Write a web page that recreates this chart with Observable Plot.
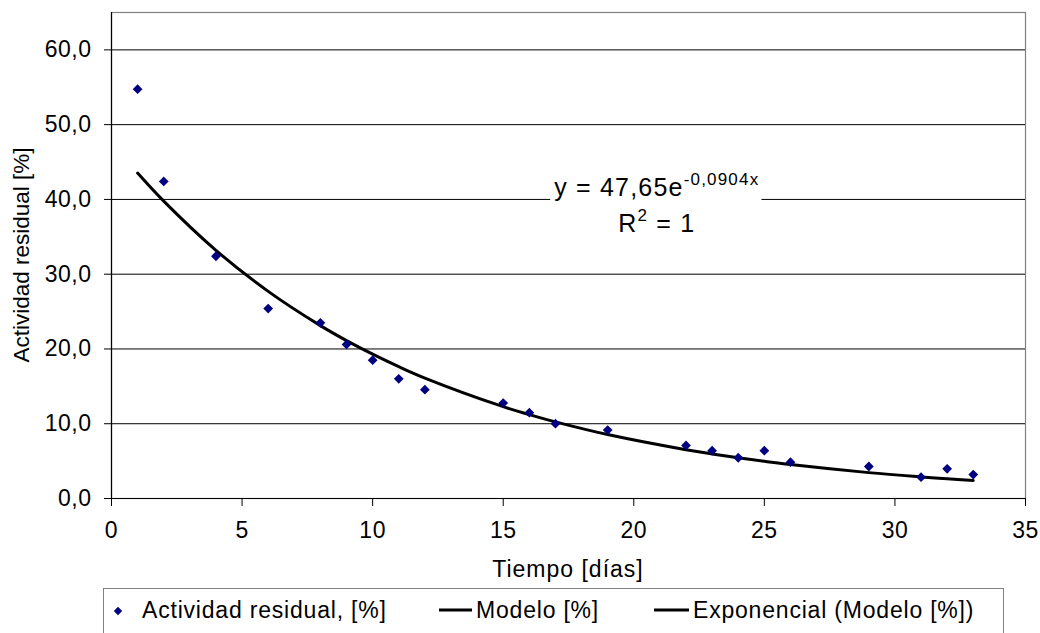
<!DOCTYPE html>
<html>
<head>
<meta charset="utf-8">
<script src="https://cdn.jsdelivr.net/npm/d3@7"></script>
<script src="https://cdn.jsdelivr.net/npm/@observablehq/plot@0.6"></script>
<style>
  body { margin: 0; background: #fff; font-family: "Liberation Sans", Arial, sans-serif; }
  #wrap { position: relative; width: 1040px; height: 633px; overflow: hidden; background: #fff; }
  #legend { position: absolute; left: 103px; top: 588px; width: 901px; height: 80px; box-sizing: border-box; border: 1px solid #808080; background: #fff; }
  #legend svg { display: block; }
</style>
</head>
<body>
<div id="wrap">
  <div id="chart"></div>
  <div id="legend"></div>
</div>
<script>
// ---- data ----
const days = [1, 2, 4, 6, 8, 9, 10, 11, 12, 15, 16, 17, 19, 22, 23, 24, 25, 26, 29, 31, 32, 33];
const actividad = [54.75, 42.4, 32.4, 25.4, 23.5, 20.6, 18.5, 16.0, 14.55, 12.76, 11.47, 10.0, 9.15, 7.1, 6.4, 5.45, 6.4, 4.86, 4.28, 2.85, 3.97, 3.2];
const modelo = [43.53, 39.77, 33.19, 27.70, 23.12, 21.12, 19.30, 17.63, 16.11, 12.28, 11.22, 10.25, 8.55, 6.52, 5.96, 5.44, 4.97, 4.54, 3.46, 2.89, 2.64, 2.41];
const xTicks = [0, 5, 10, 15, 20, 25, 30, 35];
const yTicks = [0, 10, 20, 30, 40, 50, 60];
const xLabel = "Tiempo [días]";
const yLabel = "Actividad residual [%]";
const seriesNames = ["Actividad residual, [%]", "Modelo [%]", "Exponencial (Modelo [%])"];
const equation = { base: "y = 47,65e", exp: "-0,0904x", r2: "R", r2exp: "2", r2rest: " = 1" };
const eqAnchor = [{ x: 20.9, y: 40.4 }];

const data = days.map((d, i) => ({ day: d, act: actividad[i], mod: modelo[i] }));
const FONT = "'Liberation Sans', Arial, sans-serif";
const fmtY = d => d.toFixed(1).replace(".", ",");

const chart = Plot.plot({
  width: 1040,
  height: 580,
  marginLeft: 111,
  marginRight: 15,
  marginTop: 12,
  marginBottom: 82,
  style: { fontFamily: FONT, fontSize: "23px", letterSpacing: "0.5px", color: "#000", background: "#fff", overflow: "visible" },
  x: { domain: [0, 35], label: null },
  y: { domain: [0, 65], label: null },
  marks: [
    Plot.frame({ stroke: "#808080", strokeWidth: 1.2 }),
    Plot.ruleY(yTicks.filter(d => d > 0), { stroke: "#000", strokeWidth: 1 }),
    Plot.axisX({ ticks: xTicks, tickSize: 8, tickPadding: 15, tickFormat: d => String(d), label: null, stroke: "#000", fill: "#000" }),
    Plot.axisY({ ticks: yTicks, tickSize: 7, tickPadding: 13, tickFormat: fmtY, label: null, stroke: "#000", fill: "#000" }),
    Plot.ruleX([0], { stroke: "#000", strokeWidth: 1.2 }),
    Plot.ruleY([0], { stroke: "#000", strokeWidth: 1.2 }),
    Plot.line(data, { x: "day", y: "mod", stroke: "#000", strokeWidth: 3, curve: "catmull-rom" }),
    Plot.dot(data, { x: "day", y: "act", symbol: "diamond2", r: 4.4, fill: "#000080", stroke: "none" })
  ]
});
document.getElementById("chart").appendChild(chart);

// ---- annotation and axis titles ----
const sx = chart.scale("x"), sy = chart.scale("y");
const svg = d3.select(chart);
const ann = svg.append("g").attr("font-family", FONT).attr("fill", "#000").style("letter-spacing", "1.2px");
const bgRect = ann.append("rect").attr("fill", "#fff");
const eqX = sx.apply(eqAnchor[0].x), eqY = sy.apply(eqAnchor[0].y);
const t1 = ann.append("text").attr("x", eqX).attr("y", eqY).attr("text-anchor", "middle").attr("font-size", 25);
t1.append("tspan").text(equation.base);
t1.append("tspan").attr("dy", -11).attr("font-size", 17).text(equation.exp);
const t2 = ann.append("text").attr("x", eqX).attr("y", eqY + 36).attr("text-anchor", "middle").attr("font-size", 25);
t2.append("tspan").text(equation.r2);
t2.append("tspan").attr("dy", -11).attr("font-size", 17).text(equation.r2exp);
t2.append("tspan").attr("dy", 11).text(equation.r2rest);
const bb = t1.node().getBBox();
bgRect.attr("x", bb.x - 4).attr("y", bb.y - 2).attr("width", bb.width + 6).attr("height", bb.height + 40);

const x0 = sx.range[0], x1 = sx.range[1];
const yr = sy.range; // [bottom, top]
svg.append("text").attr("x", (x0 + x1) / 2).attr("y", 577).attr("text-anchor", "middle")
  .attr("font-family", FONT).attr("font-size", 23).style("letter-spacing", "1px").attr("fill", "#000").text(xLabel);
svg.append("text").attr("transform", `translate(29,${(yr[0] + yr[1]) / 2}) rotate(-90)`).attr("text-anchor", "middle")
  .attr("font-family", FONT).attr("font-size", 22.5).style("letter-spacing", "0px").attr("fill", "#000").text(yLabel);

// ---- legend ----
const lg = d3.select("#legend").append("svg").attr("width", 899).attr("height", 60)
  .attr("font-family", FONT).attr("font-size", 23).style("letter-spacing", "0.8px");
lg.append("path").attr("d", d3.symbol(d3.symbolDiamond2, 45)()).attr("transform", "translate(14,22)").attr("fill", "#000080");
lg.append("text").attr("x", 38).attr("y", 29).text(seriesNames[0]);
lg.append("line").attr("x1", 335).attr("x2", 368).attr("y1", 21).attr("y2", 21).attr("stroke", "#000").attr("stroke-width", 3);
lg.append("text").attr("x", 372).attr("y", 29).text(seriesNames[1]);
lg.append("line").attr("x1", 550).attr("x2", 585).attr("y1", 21).attr("y2", 21).attr("stroke", "#000").attr("stroke-width", 3);
lg.append("text").attr("x", 589).attr("y", 29).text(seriesNames[2]);
</script>
</body>
</html>
